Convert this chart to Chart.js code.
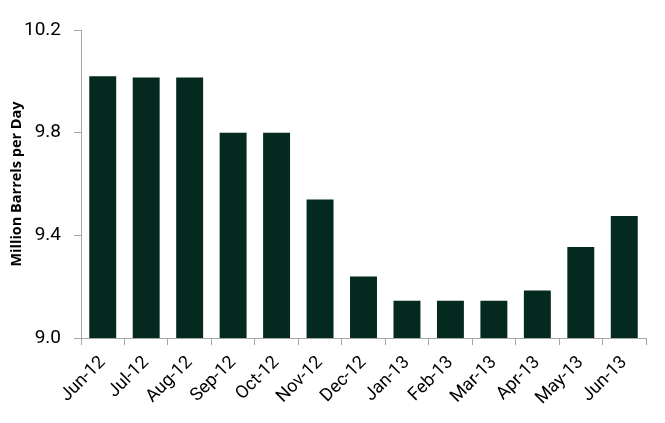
<!DOCTYPE html>
<html>
<head>
<meta charset="utf-8">
<script src="https://cdn.jsdelivr.net/npm/chart.js@4"></script>
<style>
  html, body { margin: 0; padding: 0; background: #fff; }
  #wrap { width: 665px; height: 423px; position: relative; }
</style>
</head>
<body>
<div id="wrap"><canvas id="chart"></canvas></div>
<script>
// Data
const months = ["Jun-12", "Jul-12", "Aug-12", "Sep-12", "Oct-12", "Nov-12", "Dec-12",
                "Jan-13", "Feb-13", "Mar-13", "Apr-13", "May-13", "Jun-13"];
const production = [10.02, 10.015, 10.015, 9.80, 9.80, 9.54, 9.24,
                    9.145, 9.145, 9.145, 9.185, 9.355, 9.475];
const yTicks = [9.0, 9.4, 9.8, 10.2];

const font = "Roboto, 'Open Sans', sans-serif";

new Chart(document.getElementById("chart"), {
    type: 'bar',
    data: {
        labels: months,
        datasets: [{
            data: production,
            backgroundColor: '#04291e',
            borderWidth: 0,
            barPercentage: 0.62,
            categoryPercentage: 1
        }]
    },
    options: {
        responsive: true,
        maintainAspectRatio: false,
        animation: false,
        layout: { padding: { top: 30, right: 19, left: 0, bottom: 0 } },
        plugins: {
            legend: { display: false },
            tooltip: { enabled: false }
        },
        scales: {
            x: {
                offset: true,
                border: { color: '#a6a6a6', width: 1 },
                grid: { offset: true, drawOnChartArea: false, drawTicks: true, tickLength: 7, color: '#a6a6a6' },
                ticks: {
                    color: '#000',
                    font: { family: font, size: 18 },
                    maxRotation: 45,
                    minRotation: 45,
                    padding: 7
                },
                afterFit: function(scale) { scale.height = 85; }
            },
            y: {
                min: 9.0,
                max: 10.2,
                border: { color: '#a6a6a6', width: 1 },
                grid: { drawOnChartArea: false, drawTicks: true, tickLength: 7, color: '#a6a6a6' },
                afterBuildTicks: function(scale) {
                    scale.ticks = yTicks.map(v => ({ value: v }));
                },
                ticks: {
                    color: '#000',
                    font: { family: font, size: 19 },
                    padding: 13,
                    callback: function(value) { return Number(value).toFixed(1); }
                },
                title: {
                    display: true,
                    text: 'Million Barrels per Day',
                    color: '#000',
                    font: { family: "'Open Sans', sans-serif", size: 14.5, weight: 'bold' },
                    padding: { top: 8, bottom: 4 }
                },
                afterFit: function(scale) { scale.width = 81; }
            }
        }
    }
});
</script>
</body>
</html>
